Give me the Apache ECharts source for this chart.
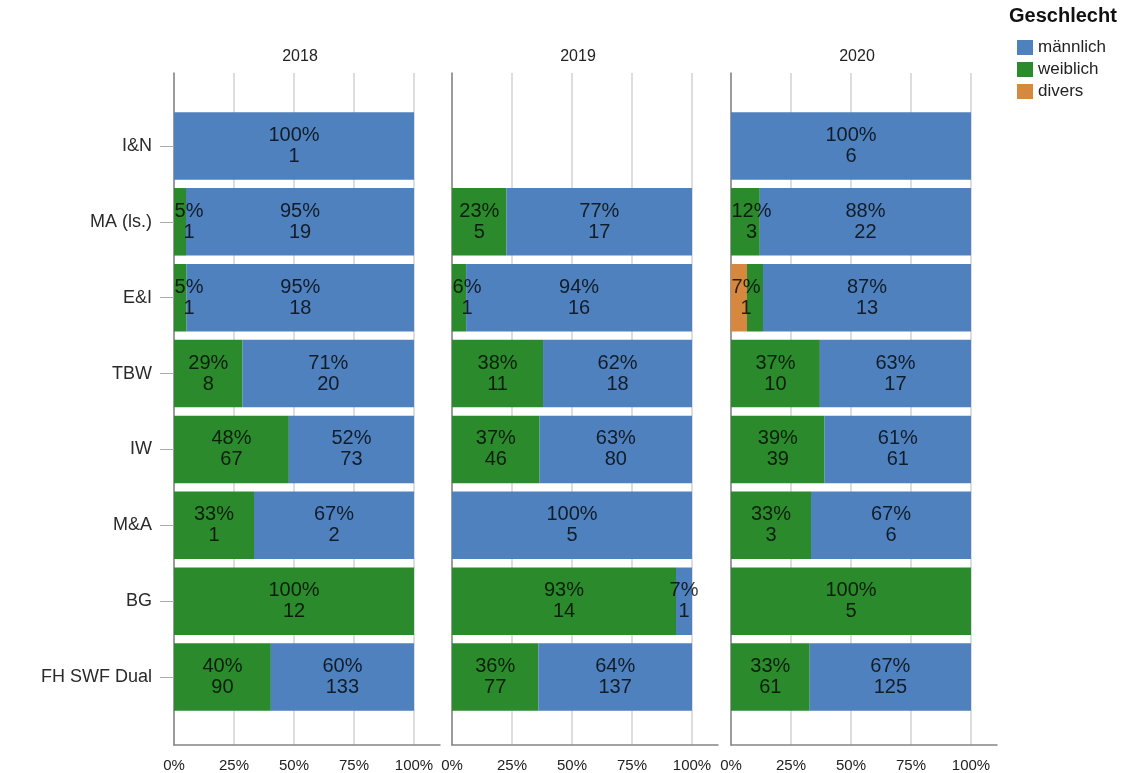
<!DOCTYPE html>
<html>
<head>
<meta charset="utf-8">
<script src="https://cdn.jsdelivr.net/npm/echarts@6/dist/echarts.min.js"></script>
<style>
html,body{margin:0;padding:0;background:#fff;}
#chart{width:1127px;height:773px;}
</style>
</head>
<body>
<div id="chart"></div>
<script>
// ---- data ----
const categories = ['I&N', 'MA (ls.)', 'E&I', 'TBW', 'IW', 'M&A', 'BG', 'FH SWF Dual'];
const years = ['2018', '2019', '2020'];
const seriesNames = ['divers', 'weiblich', 'männlich'];
const legendOrder = ['männlich', 'weiblich', 'divers'];

const divers2018   = [0, 0, 0, 0, 0, 0, 0, 0];
const weiblich2018 = [0, 1, 1, 8, 67, 1, 12, 90];
const maennlich2018 = [1, 19, 18, 20, 73, 2, 0, 133];

const divers2019   = [0, 0, 0, 0, 0, 0, 0, 0];
const weiblich2019 = [0, 5, 1, 11, 46, 0, 14, 77];
const maennlich2019 = [0, 17, 16, 18, 80, 5, 1, 137];

const divers2020   = [0, 0, 1, 0, 0, 0, 0, 0];
const weiblich2020 = [0, 3, 1, 10, 39, 3, 5, 61];
const maennlich2020 = [6, 22, 13, 17, 61, 6, 0, 125];

const xTicks = [0, 25, 50, 75, 100];

const counts = [
  [divers2018, weiblich2018, maennlich2018],
  [divers2019, weiblich2019, maennlich2019],
  [divers2020, weiblich2020, maennlich2020]
];

// ---- style ----
const colors = {'männlich': '#4e81bd', 'weiblich': '#2b8a2b', 'divers': '#d6883f'};
const FONT = '"Liberation Sans", Arial, sans-serif';
const LABEL_COLOR = 'rgba(0,0,0,0.78)';
const panelLeft = [174, 452, 731];
const panelW = 240;
const frameW = 266;

const grid = [], xAxis = [], yAxis = [], series = [], title = [];

title.push({
  text: 'Geschlecht', left: 1009, top: 6, padding: 0,
  textStyle: {fontFamily: FONT, fontSize: 20, fontWeight: 'bold', color: '#111'}
});

// approximate label width in px (20px Liberation Sans)
function textW(s) {
  let w = 0;
  for (const ch of s) w += (ch === '%') ? 17.8 : 11.1;
  return w;
}

years.forEach((yr, p) => {
  const L = panelLeft[p];
  grid.push({left: L, width: panelW, top: 108, bottom: 58});
  grid.push({left: L, width: frameW, top: 73, bottom: 28});
  const gData = p * 2, gFrame = p * 2 + 1;

  title.push({
    text: yr, left: L + panelW / 2 + 6, top: 49, textAlign: 'center', padding: 0,
    textStyle: {fontFamily: FONT, fontSize: 16, fontWeight: 'normal', color: '#222'}
  });

  xAxis.push({type: 'value', gridIndex: gData, min: 0, max: 100, show: false});
  yAxis.push({
    type: 'category', gridIndex: gData, data: categories, inverse: true,
    axisLine: {show: false},
    axisTick: {show: p === 0, alignWithLabel: true, length: 14, lineStyle: {color: '#aaa'}},
    axisLabel: {show: p === 0, margin: 22, fontFamily: FONT, fontSize: 18, color: '#2a2a2a'}
  });
  xAxis.push({
    type: 'value', gridIndex: gFrame, min: 0, max: 100 * frameW / panelW, interval: 25,
    axisLine: {show: true, lineStyle: {color: '#858585', width: 1.5}},
    axisTick: {show: false},
    axisLabel: {
      showMaxLabel: false, margin: 13, fontFamily: FONT, fontSize: 15, color: '#222',
      formatter: v => xTicks.indexOf(v) >= 0 ? v + '%' : ''
    },
    splitLine: {show: true, showMaxLine: false, lineStyle: {color: '#d2d2d2', width: 1.5}}
  });
  yAxis.push({
    type: 'value', gridIndex: gFrame, min: 0, max: 1,
    axisLine: {show: true, lineStyle: {color: '#858585', width: 1.5}},
    axisTick: {show: false}, axisLabel: {show: false}, splitLine: {show: false}
  });

  const c = counts[p];
  const totals = categories.map((_, i) => c[0][i] + c[1][i] + c[2][i]);
  seriesNames.forEach((name, s) => {
    const data = categories.map((_, i) => {
      const n = c[s][i];
      const tot = totals[i];
      const pct = tot ? n / tot * 100 : 0;
      let first = -1, last = -1;
      for (let k = 0; k < 3; k++) if (c[k][i] > 0) { if (first < 0) first = k; last = k; }
      const txt = Math.round(pct) + '%';
      const segPx = pct / 100 * panelW;
      const lw = Math.max(textW(txt), textW(String(n)));
      let label;
      if (n === 0) {
        label = {show: false};
      } else if (s === first && first !== last && lw > segPx) {
        label = {
          show: true, position: 'insideLeft', distance: 0,
          formatter: '{a|' + txt + '}\n{a|' + n + '}',
          rich: {a: {width: Math.ceil(lw) + 1, align: 'center', fontFamily: FONT, fontSize: 20, lineHeight: 21, color: LABEL_COLOR}}
        };
      } else if (pct < 10 && s !== first && s !== last) {
        label = {show: false};
      } else {
        label = {show: true, position: 'inside', formatter: txt + '\n' + n};
      }
      return {value: pct, label: label};
    });
    series.push({
      name: name, type: 'bar', stack: 'p' + p,
      xAxisIndex: gData, yAxisIndex: gData,
      barCategoryGap: '11%',
      itemStyle: {color: colors[name]},
      label: {fontFamily: FONT, fontSize: 20, lineHeight: 21, color: LABEL_COLOR},
      emphasis: {disabled: true},
      animation: false,
      data: data
    });
  });
});

const chart = echarts.init(document.getElementById('chart'), null, {renderer: 'canvas'});
chart.setOption({
  backgroundColor: '#fff',
  animation: false,
  title: title,
  legend: {
    data: legendOrder, orient: 'vertical', left: 1017, top: 39, padding: 0,
    icon: 'rect', itemWidth: 16, itemHeight: 15, itemGap: 5,
    textStyle: {fontFamily: FONT, fontSize: 17, color: '#222'}
  },
  grid: grid, xAxis: xAxis, yAxis: yAxis, series: series
});
</script>
</body>
</html>
